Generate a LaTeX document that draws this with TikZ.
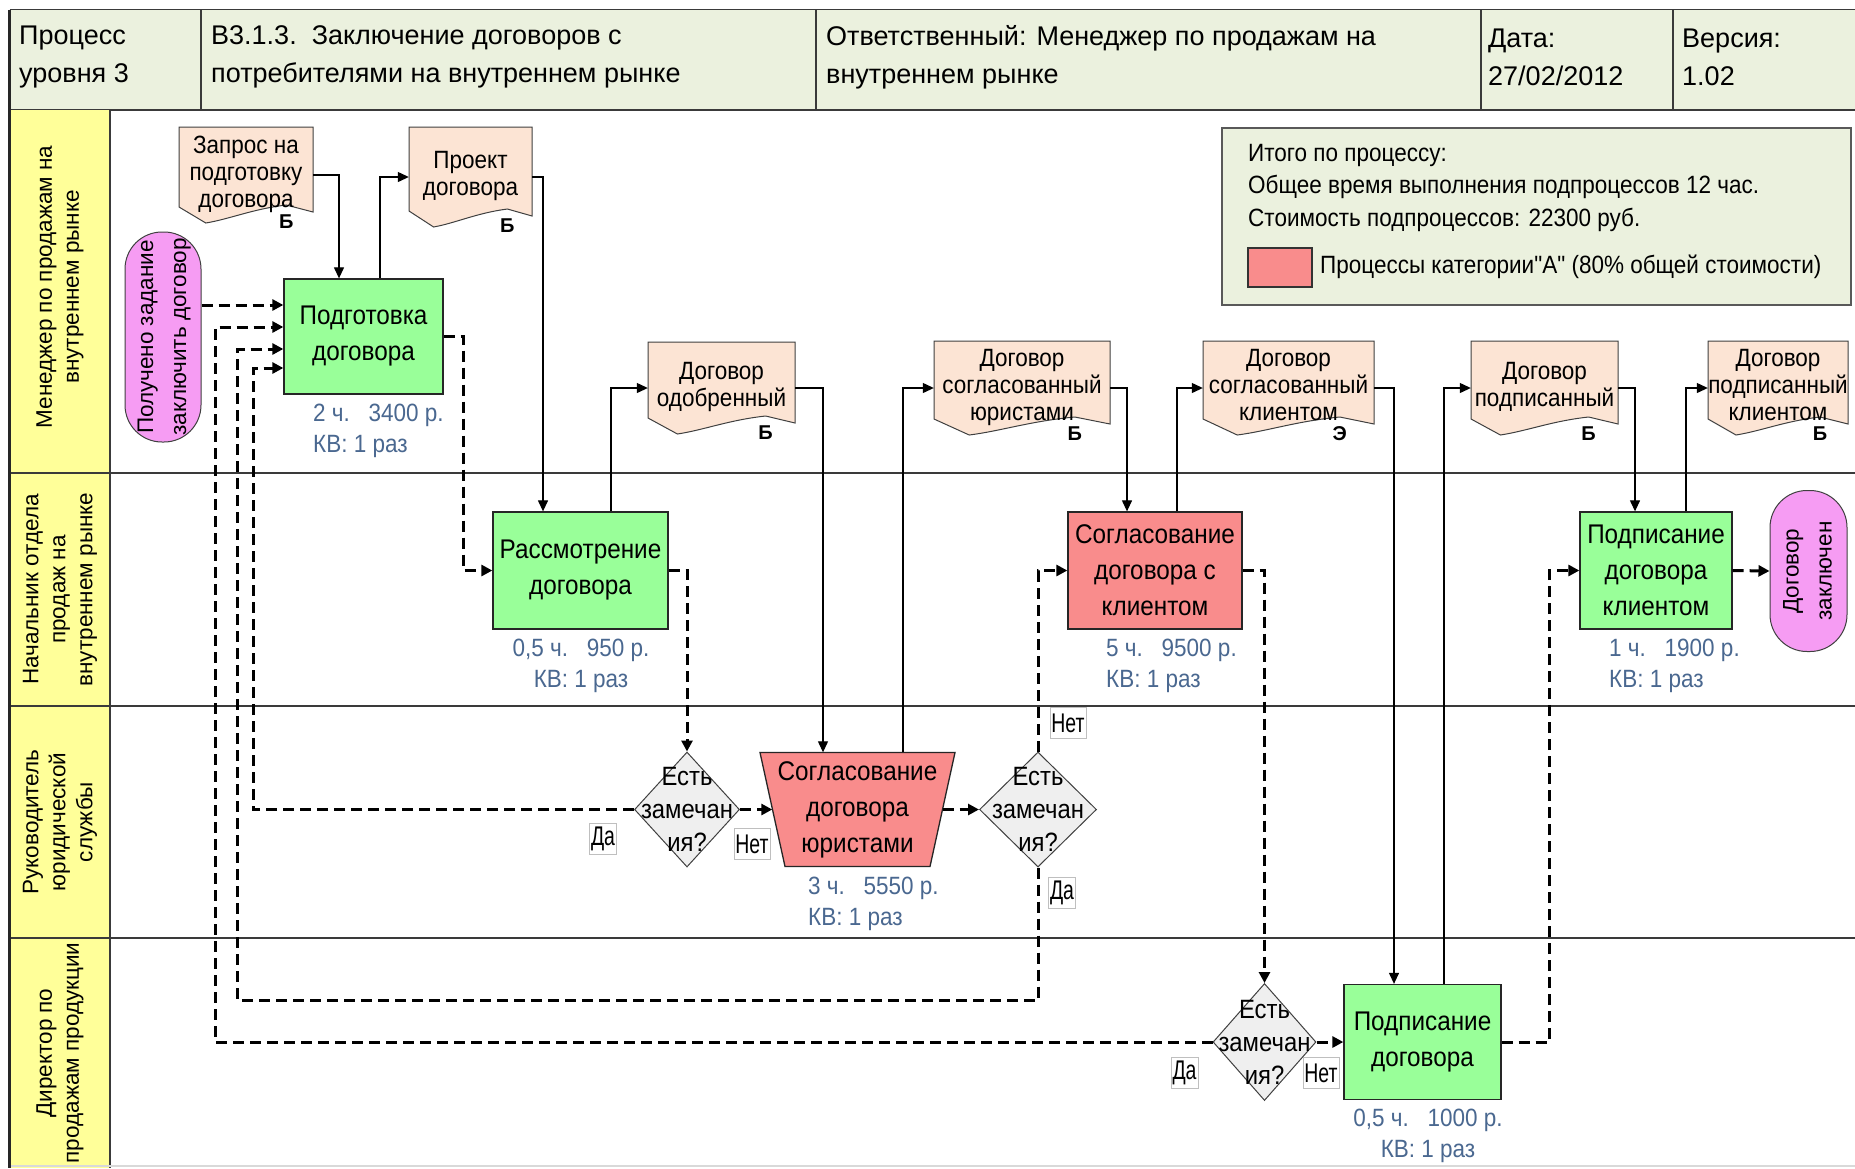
\documentclass[tikz,border=0pt]{standalone}
\usepackage{fontspec}
\setmainfont{Liberation Sans}
\newfontfamily\nar[FakeStretch=0.9]{Liberation Sans}
\newfontfamily\narr[FakeStretch=0.72]{Liberation Sans}
\usetikzlibrary{arrows.meta,shapes.geometric,calc}
\definecolor{hdrfill}{HTML}{EBF1DE}
\definecolor{laneY}{HTML}{FFFF99}
\definecolor{procG}{HTML}{99FF99}
\definecolor{procR}{HTML}{F98C8C}
\definecolor{docF}{HTML}{FCE4D4}
\definecolor{termP}{HTML}{F69CF3}
\definecolor{decG}{HTML}{EFEFEF}
\definecolor{costC}{HTML}{4A6890}
\definecolor{lanec}{HTML}{3A3A3A}
\tikzset{
  hline/.style={draw=lanec, line width=1.8pt},
  laneline/.style={draw=lanec, line width=1.8pt},
  hdrtext/.style={anchor=west, align=left, inner sep=0pt, font=\fontsize{27}{38}\selectfont},
  lanetext/.style={rotate=90, align=center, inner sep=0pt, font=\fontsize{22.5}{27}\selectfont},
  proc/.style={draw=black!85, line width=1.3pt, align=center, inner sep=0pt, font=\nar\fontsize{27}{36}\selectfont},
  greenproc/.style={proc, fill=procG},
  redproc/.style={proc, fill=procR},
  doctext/.style={inner sep=0pt, align=center, font=\nar\fontsize{25}{27}\selectfont},
  docshape/.style={draw=black!75, line width=1pt, fill=docF},
  doclet/.style={inner sep=0pt, font=\bfseries\fontsize{20}{20}\selectfont},
  term/.style={draw=black!75, line width=1pt, fill=termP, rounded corners=37pt, inner sep=0pt, align=center, font=\fontsize{22.5}{33}\selectfont},
  dec/.style={diamond, draw=black!75, line width=1pt, fill=decG, inner sep=0pt},
  dectext/.style={inner sep=0pt, align=center, font=\nar\fontsize{26.5}{33}\selectfont},
  yn/.style={draw=black!25, fill=white, inner xsep=1.5pt, inner ysep=0pt, minimum height=31pt, font=\narr\fontsize{27}{27}\selectfont},
  cost/.style={inner sep=0pt, text=costC, font=\nar\fontsize{25}{31}\selectfont},
  legtext/.style={anchor=west, inner sep=0pt, font=\nar\fontsize{25}{30}\selectfont},
  flow/.style={line width=1.2pt, -{Triangle[length=11pt,width=10pt]}},
  dflow/.style={line width=3pt, dash pattern=on 11pt off 6pt, -{Triangle[length=11pt,width=11pt]}},
}
\newcommand\mydoc[7]{%
  \draw[docshape] (#2,#3) -- (#2+#4,#3) -- (#2+#4,#3+#5-11) -- (#2+0.8*#4,#3+#5-18)
     .. controls (#2+0.55*#4,#3+#5-14) and (#2+0.38*#4,#3+#5-4) .. (#2+0.2*#4,#3+#5)
     -- (#2,#3+#5-16) -- cycle;
  \node[doctext, minimum width=#4 pt, minimum height=#5 pt] (#1) at (#2+#4/2,#3+#5/2)
     {\raisebox{7pt}{\begin{tabular}{@{}c@{}}#6\end{tabular}}};
  \node[doclet] (#1b) at (#2+0.8*#4,#3+#5-1) {#7};
}
\begin{document}
\begin{tikzpicture}[x=1pt,y=-1pt]
\useasboundingbox (0,0) rectangle (1855,1168);
\fill[white] (0,0) rectangle (1855,1168);
% header
\fill[hdrfill] (9.5,9.5) rectangle (1855,110);
\draw[hline] (9.5,9.5) -- (1855,9.5);
\draw[hline] (9.5,110) -- (1855,110);
\foreach \x in {201,816,1481,1673} \draw[hline] (\x,9.5) -- (\x,110);
\node[hdrtext] (h1) at (19,57) {Процесс\\уровня 3};
\node[hdrtext] (h2) at (211,57) {В3.1.3.\ \ Заключение договоров с\\потребителями на внутреннем рынке};
\node[hdrtext] (h3) at (826,57) {Ответственный: Менеджер по продажам на\\внутреннем рынке};
\node[hdrtext] (h4) at (1488,57) {Дата:\\27/02/2012};
\node[hdrtext] (h5) at (1682,57) {Версия:\\1.02};
% lanes
\fill[laneY] (9.5,110) rectangle (110,1168);
\draw[laneline] (110,110) -- (110,1168);
\foreach \y in {473,706,938} \draw[laneline] (9.5,\y) -- (1855,\y);
\draw[black!15, line width=1.5pt] (9.5,1166) -- (1855,1166);
\draw[line width=3.5pt, black!85] (9.5,9.5) -- (9.5,1168);
\node[lanetext] (l1) at (60,287) {Менеджер по продажам на\\внутреннем рынке};
\node[lanetext] (l2) at (60,589.5) {Начальник отдела\\продаж на\\внутреннем рынке};
\node[lanetext] (l3) at (60,822) {Руководитель\\юридической\\службы};
\node[lanetext] (l4) at (60,1053) {Директор по\\продажам продукции};
% legend
\node[draw=black!65, line width=1.5pt, fill=hdrfill, minimum width=629pt, minimum height=177pt, inner sep=0pt] (legend) at (1536.5,216.5) {};
\node[legtext] (lg1) at (1248,155) {Итого по процессу:};
\node[legtext] (lg2) at (1248,187) {Общее время выполнения подпроцессов 12 час.};
\node[legtext] (lg3) at (1248,220) {Стоимость подпроцессов: 22300 руб.};
\node[draw=black!80, line width=1.2pt, fill=procR, minimum width=64pt, minimum height=39pt, inner sep=0pt] (legsq) at (1280,267.5) {};
\node[legtext] (lg4) at (1320,267) {Процессы категории"А" (80\% общей стоимости)};
% documents
\mydoc{zapros}{179}{127}{134}{96}{Запрос на\\подготовку\\договора}{Б}
\mydoc{proekt}{409}{127}{123}{100}{Проект\\договора}{Б}
\mydoc{odobr}{648}{342}{147}{92}{Договор\\одобренный}{Б}
\mydoc{soglur}{934}{341}{176}{94}{Договор\\согласованный\\юристами}{Б}
\mydoc{soglkl}{1203}{341}{171}{94}{Договор\\согласованный\\клиентом}{Э}
\mydoc{podpisan}{1471}{341}{147}{94}{Договор\\подписанный}{Б}
\mydoc{podpkl}{1708}{341}{140}{94}{Договор\\подписанный\\клиентом}{Б}
% terminals
\node[term, minimum width=76pt, minimum height=210pt] (poluch) at (163,337)
  {\rotatebox{90}{\begin{tabular}{@{}c@{}}Получено задание\\заключить договор\end{tabular}}};
\node[term, minimum width=77pt, minimum height=161pt] (zakl) at (1808.5,571)
  {\rotatebox{90}{\begin{tabular}{@{}c@{}}Договор\\заключен\end{tabular}}};
% processes
\node[greenproc, minimum width=159pt, minimum height=115pt] (podg) at (363.5,336.5) {Подготовка\\договора};
\node[greenproc, minimum width=175pt, minimum height=117pt] (rassm) at (580.5,570.5) {Рассмотрение\\договора};
\node[redproc, minimum width=174pt, minimum height=117pt] (soglkli) at (1155,570.5) {Согласование\\договора с\\клиентом};
\node[greenproc, minimum width=152pt, minimum height=117pt] (podpkli) at (1656,570.5) {Подписание\\договора\\клиентом};
\node[greenproc, minimum width=157pt, minimum height=115pt] (podpd) at (1422.5,1042) {Подписание\\договора};
\draw[draw=black!85, line width=1.3pt, fill=procR] (760,752.5) -- (955,752.5) -- (930,866.5) -- (785,866.5) -- cycle;
\node[inner sep=0pt, minimum width=170pt, minimum height=114pt, align=center, font=\nar\fontsize{27}{36}\selectfont] (trap) at (857.5,809.5) {Согласование\\договора\\юристами};
% costs
\node[cost, anchor=north west, align=left] (c1) at (313,404) {2 ч.\ \ \ 3400 р.\\КВ: 1 раз};
\node[cost, anchor=north, align=center] (c2) at (581,639) {0,5 ч.\ \ \ 950 р.\\КВ: 1 раз};
\node[cost, anchor=north west, align=left] (c3) at (808,877) {3 ч.\ \ \ 5550 р.\\КВ: 1 раз};
\node[cost, anchor=north west, align=left] (c4) at (1106,639) {5 ч.\ \ \ 9500 р.\\КВ: 1 раз};
\node[cost, anchor=north west, align=left] (c5) at (1609,639) {1 ч.\ \ \ 1900 р.\\КВ: 1 раз};
\node[cost, anchor=north, align=center] (c6) at (1428,1109) {0,5 ч.\ \ \ 1000 р.\\КВ: 1 раз};
% decisions
\node[dec, minimum width=105pt, minimum height=115pt, label={[dectext]center:{Есть\\замечан\\ия?}}] (d1) at (687,809.5) {};
\node[dec, minimum width=117pt, minimum height=115pt, label={[dectext]center:{Есть\\замечан\\ия?}}] (d2) at (1038,809.5) {};
\node[dec, minimum width=103pt, minimum height=117pt, label={[dectext]center:{Есть\\замечан\\ия?}}] (d3) at (1264.5,1042) {};
\node[yn] (da1) at (603,838.5) {Да};
\node[yn] (net1) at (752,844) {Нет};
\node[yn] (net2) at (1068,723) {Нет};
\node[yn] (da2) at (1062,893) {Да};
\node[yn] (da3) at (1184.5,1073) {Да};
\node[yn] (net3) at (1321,1073) {Нет};
% solid flows
\draw[flow] (zapros.east) -| ([xshift=-24.5pt]podg.north);
\draw[flow] ([xshift=16.5pt]podg.north) |- (proekt.west);
\draw[flow] (proekt.east) -| ([xshift=-37.5pt]rassm.north);
\draw[flow] ([xshift=30.5pt]rassm.north) |- (odobr.west);
\draw[flow] (odobr.east) -| ([xshift=-34.5pt]trap.north);
\draw[flow] ([xshift=45.5pt]trap.north) |- (soglur.west);
\draw[flow] (soglur.east) -| ([xshift=-28pt]soglkli.north);
\draw[flow] ([xshift=22pt]soglkli.north) |- (soglkl.west);
\draw[flow] (soglkl.east) -| ([xshift=-28.5pt]podpd.north);
\draw[flow] ([xshift=21.5pt]podpd.north) |- (podpisan.west);
\draw[flow] (podpisan.east) -| ([xshift=-21pt]podpkli.north);
\draw[flow] ([xshift=30pt]podpkli.north) |- (podpkl.west);
% dashed flows
\coordinate (in1) at ([yshift=31.5pt]podg.west);
\coordinate (in2) at ([yshift=9.5pt]podg.west);
\coordinate (in3) at ([yshift=-12.5pt]podg.west);
\coordinate (in4) at ([yshift=-31.5pt]podg.west);
\coordinate (railA) at (215,0);
\coordinate (railB) at (237,0);
\coordinate (railC) at (253,0);
\coordinate (levB) at (0,1000);
\draw[dflow] (in1 -| poluch.east) -- (in1);
\draw[dflow] (d1.west) -- (d1.west -| railC) |- (in4);
\draw[dflow] (d2.south) -- (d2.south |- levB) -- (levB -| railB) |- (in3);
\draw[dflow] (d3.west) -- (d3.west -| railA) |- (in2);
\draw[dflow] (podg.east) -- ++(20,0) |- (rassm.west);
\draw[dflow] (rassm.east) -| (d1.north);
\draw[dflow] (d1.east) -- (trap.west);
\draw[dflow] (trap.east) -- (d2.west);
\draw[dflow] (d2.north) |- (soglkli.west);
\draw[dflow] (soglkli.east) -| (d3.north);
\draw[dflow] (d3.east) -- (podpd.west);
\draw[dflow] (podpd.east) -- ++(48,0) |- (podpkli.west);
\draw[dflow] (podpkli.east) -- (zakl.west);
\end{tikzpicture}
\end{document}
